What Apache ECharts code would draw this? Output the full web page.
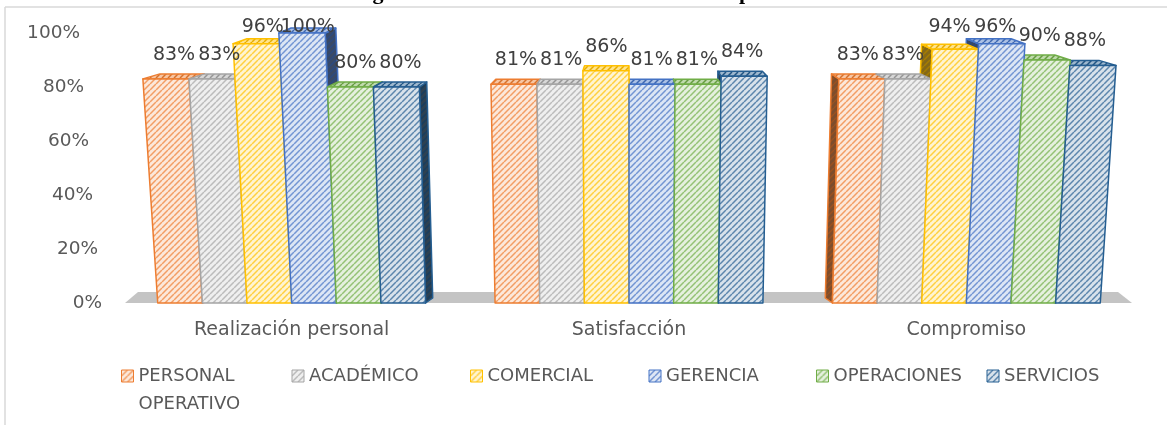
<!DOCTYPE html>
<html>
<head>
<meta charset="utf-8">
<script src="https://cdn.jsdelivr.net/npm/echarts@6.0.0/dist/echarts.min.js"></script>
<style>
  html, body { margin: 0; padding: 0; background: #ffffff; }
  #chart { width: 1167px; height: 425px; }
</style>
</head>
<body>
<div id="chart"></div>
<script>
// Engagement components by department (percent)
const categories = ['Realización personal', 'Satisfacción', 'Compromiso'];
const departments = ['PERSONAL OPERATIVO', 'ACADÉMICO', 'COMERCIAL', 'GERENCIA', 'OPERACIONES', 'SERVICIOS'];
const personalOperativo = [83, 81, 83];
const academico = [83, 81, 83];
const comercial = [96, 86, 94];
const gerencia = [100, 81, 96];
const operaciones = [80, 81, 90];
const servicios = [80, 84, 88];
const yTicks = [0, 20, 40, 60, 80, 100];

const seriesValues = [personalOperativo, academico, comercial, gerencia, operaciones, servicios];
const palette = ['#ED7D31', '#A5A5A5', '#FFC000', '#4472C4', '#70AD47', '#255E91'];
const FONT = '"DejaVu Sans", sans-serif';
const TEXT = '#595959';

// perspective settings of the pseudo-3D columns
const LEAN = 0.038;     // outward lean of the column tops
const DEPTH_X = 0.035;  // convergence of the back faces toward the centre
const DEPTH_Y = 5;      // visible depth of the top faces (px)
const GROUP_FILL = 0.794;

// legend column widths (text part of each entry)
const legendTextWidths = [153, 161, 161, 150, 153, 110];

function hexToRgb(h) {
  const n = parseInt(h.slice(1), 16);
  return [(n >> 16) & 255, (n >> 8) & 255, n & 255];
}
function mix(hex, target, t) {
  const a = hexToRgb(hex);
  const r = a.map((v, i) => Math.round(v + (target[i] - v) * t));
  return 'rgb(' + r.join(',') + ')';
}
// diagonal hatch fill
function hatch(bg, stripe, width) {
  const s = 6;
  const c = document.createElement('canvas');
  c.width = c.height = s;
  const g = c.getContext('2d');
  g.fillStyle = bg;
  g.fillRect(0, 0, s, s);
  g.strokeStyle = stripe;
  g.lineWidth = width;
  g.beginPath();
  for (let k = -1; k <= 1; k++) {
    g.moveTo(k * s, s);
    g.lineTo(k * s + s, 0);
  }
  g.stroke();
  return { image: c, repeat: 'repeat' };
}

const frontFill = palette.map(c => hatch(mix(c, [255, 255, 255], 0.82), mix(c, [255, 255, 255], 0.25), 1.5));
const topFill = palette.map(c => hatch(mix(c, [255, 255, 255], 0.55), mix(c, [0, 0, 0], 0.1), 1.5));
const sideFill = palette.map(c => hatch(mix(c, [50, 45, 40], 0.6), mix(c, [0, 0, 0], 0.35), 1.5));

function renderColumn(si) {
  return function (params, api) {
    const cat = api.value(0);
    const val = api.value(1);
    const cs = params.coordSys;
    const base = api.coord([cat, 0]);
    const top = api.coord([cat, val]);
    const band = api.size([1, 0])[0];
    const groupW = band * GROUP_FILL;
    const barW = groupW / departments.length;
    const xl = base[0] - groupW / 2 + si * barW;
    const xr = xl + barW;
    const yb = base[1];
    const yt = top[1];
    const cx = cs.x + cs.width / 2;
    const lean = LEAN * (yb - yt) / cs.height;
    const bl = [xl, yb], br = [xr, yb];
    const tl = [xl + (xl - cx) * lean, yt];
    const tr = [xr + (xr - cx) * lean, yt];
    const back = p => [cx + (p[0] - cx) * (1 - DEPTH_X), p[1] - DEPTH_Y];
    const col = palette[si];
    const stroke = { stroke: col, lineWidth: 1.5, lineJoin: 'round' };
    const children = [];
    // side face (towards the centre of the chart)
    const mid = (xl + xr) / 2;
    if (Math.abs(mid - cx) > barW) {
      const pts = mid < cx ? [br, tr, back(tr), back(br)] : [bl, tl, back(tl), back(bl)];
      children.push({
        type: 'polygon', z2: 1,
        shape: { points: pts },
        style: Object.assign({ fill: sideFill[si] }, stroke)
      });
    }
    // top face
    children.push({
      type: 'polygon', z2: 2,
      shape: { points: [tl, tr, back(tr), back(tl)] },
      style: Object.assign({ fill: topFill[si] }, stroke)
    });
    // front face
    children.push({
      type: 'polygon', z2: 10,
      shape: { points: [bl, tl, tr, br] },
      style: Object.assign({ fill: frontFill[si] }, stroke)
    });
    // value label
    const lx = (tl[0] + tr[0] + back(tl)[0] + back(tr)[0]) / 4;
    const ly = Math.max(cs.y - 6, yt - 24);
    children.push({
      type: 'text', z2: 30,
      style: {
        text: val + '%', x: lx, y: ly,
        align: 'center', verticalAlign: 'middle',
        fill: '#404040', font: '19px ' + FONT
      }
    });
    return { type: 'group', children: children };
  };
}

// grey floor under the columns
function renderFloor(params, api) {
  const cs = params.coordSys;
  const y0 = api.coord([0, 0])[1];
  return {
    type: 'polygon', z2: 0,
    shape: {
      points: [
        [cs.x + 2, y0], [cs.x + cs.width - 3, y0],
        [cs.x + cs.width - 17, y0 - 11], [cs.x + 15, y0 - 11]
      ]
    },
    style: { fill: '#c4c4c4' }
  };
}

const axisRich = {};
yTicks.forEach(t => {
  axisRich['t' + t] = {
    fontFamily: FONT, fontSize: 18.5, color: TEXT,
    padding: [0, Math.round(t * 0.22), 0, 0]
  };
});

const series = [{
  type: 'custom',
  name: 'floor',
  silent: true,
  clip: false,
  renderItem: renderFloor,
  data: [[0, 0]]
}];
departments.forEach((d, i) => {
  series.push({
    type: 'custom',
    name: d,
    clip: false,
    itemStyle: { color: palette[i] },
    renderItem: renderColumn(i),
    encode: { x: 0, y: 1 },
    data: seriesValues[i].map((v, c) => [c, v])
  });
});

const chart = echarts.init(document.getElementById('chart'), null, { renderer: 'canvas' });
chart.setOption({
  backgroundColor: '#ffffff',
  animation: false,
  grid: { left: 123, right: 32, top: 33, bottom: 122 },
  xAxis: {
    type: 'category',
    data: categories,
    axisLine: { show: false },
    axisTick: { show: false },
    axisLabel: { margin: 18, fontFamily: FONT, fontSize: 19, color: TEXT }
  },
  yAxis: {
    type: 'value',
    min: 0, max: 100, interval: 20,
    axisLine: { show: false },
    axisTick: { show: false },
    splitLine: { show: false },
    axisLabel: {
      margin: 21,
      formatter: v => '{t' + v + '|' + v + '%}',
      rich: axisRich
    }
  },
  legend: {
    left: 116,
    top: 329,
    icon: 'rect',
    itemWidth: 12,
    itemHeight: 12,
    itemGap: 0,
    textStyle: { fontFamily: FONT, fontSize: 18, color: TEXT, lineHeight: 28 },
    formatter: n => n.replace('PERSONAL ', '\nPERSONAL\n'),
    data: departments.map((d, i) => ({
      name: d,
      itemStyle: { color: frontFill[i], borderColor: palette[i], borderWidth: 1 },
      textStyle: { width: legendTextWidths[i] }
    }))
  },
  graphic: [
    // frame of the figure
    { type: 'line', silent: true, shape: { x1: 5, y1: 7, x2: 1167, y2: 7 }, style: { stroke: '#d9d9d9', lineWidth: 1.5 } },
    { type: 'line', silent: true, shape: { x1: 5, y1: 7, x2: 5, y2: 425 }, style: { stroke: '#d9d9d9', lineWidth: 1.5 } },
    // lower edge of the caption running above the frame
    { type: 'text', silent: true, x: 378, y: -7, style: { text: 'g', font: 'bold 22px "Liberation Serif", serif', fill: '#000', align: 'center', verticalAlign: 'middle' } },
    { type: 'text', silent: true, x: 745, y: -7, style: { text: 'p', font: 'bold 22px "Liberation Serif", serif', fill: '#000', align: 'center', verticalAlign: 'middle' } }
  ],
  series: series
});
</script>
</body>
</html>
